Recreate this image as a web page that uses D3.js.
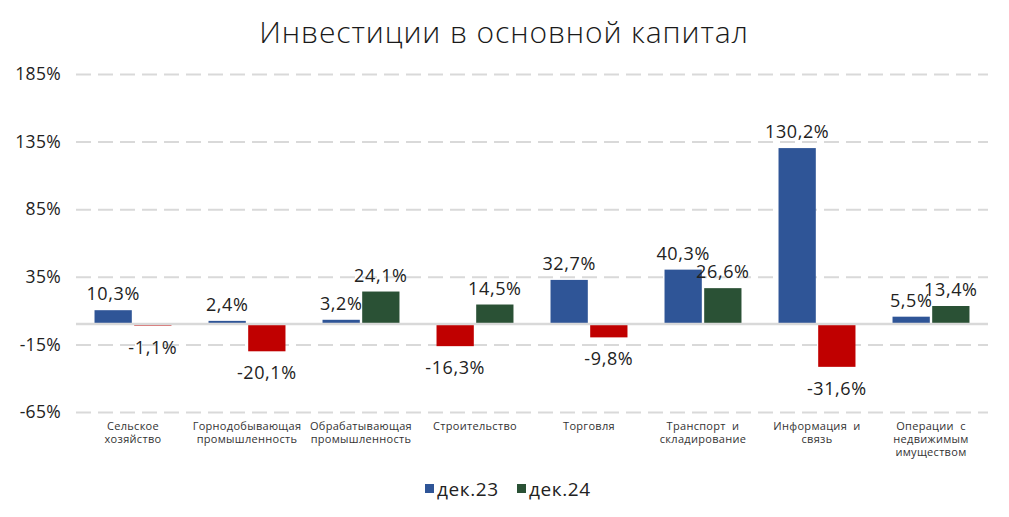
<!DOCTYPE html>
<html>
<head>
<meta charset="utf-8">
<script src="https://cdn.jsdelivr.net/npm/d3@7"></script>
<style>
  html, body { margin: 0; padding: 0; background: #fff; }
  svg { display: block; font-family: "Open Sans", "DejaVu Sans", sans-serif; }
</style>
</head>
<body>
<svg id="chart" width="1009" height="517"></svg>
<script>
const categories = [
  ["Сельское", "хозяйство"],
  ["Горнодобывающая", "промышленность"],
  ["Обрабатывающая", "промышленность"],
  ["Строительство"],
  ["Торговля"],
  ["Транспорт  и", "складирование"],
  ["Информация  и", "связь"],
  ["Операции  с", "недвижимым", "имуществом"]
];
const seriesNames = ["дек.23", "дек.24"];
const dec23 = [10.3, 2.4, 3.2, -16.3, 32.7, 40.3, 130.2, 5.5];
const dec24 = [-1.1, -20.1, 24.1, 14.5, -9.8, 26.6, -31.6, 13.4];
const dec23Labels = ["10,3%", "2,4%", "3,2%", "-16,3%", "32,7%", "40,3%", "130,2%", "5,5%"];
const dec24Labels = ["-1,1%", "-20,1%", "24,1%", "14,5%", "-9,8%", "26,6%", "-31,6%", "13,4%"];
const yTicks = [-65, -15, 35, 85, 135, 185];
const yTickLabels = ["-65%", "-15%", "35%", "85%", "135%", "185%"];
const colors = { "дек.23": "#2F5597", "дек.24": "#2A5135", negative: "#C00000" };

const svg = d3.select("#chart");
const left = 76, right = 988;

const x0 = d3.scaleBand().domain(d3.range(categories.length)).range([left, right])
  .paddingInner(0.325).paddingOuter(0.1625);
const x1 = d3.scaleBand().domain(seriesNames).range([0, x0.bandwidth()]).paddingInner(0.06);
const y = d3.scaleLinear().domain([-65, 185]).range([412, 74]);

// title
svg.append("text").attr("x", 504).attr("y", 43).attr("text-anchor", "middle")
  .attr("font-size", 30).attr("font-weight", 300).attr("letter-spacing", 0.9).attr("fill", "#1a1a1a")
  .text("Инвестиции в основной капитал");

// gridlines
const yAxis = d3.axisLeft(y).tickValues(yTicks).tickSize(-(right - left))
  .tickFormat((d, i) => yTickLabels[i]);
const gy = svg.append("g").attr("transform", `translate(${left},0)`).call(yAxis);
gy.select(".domain").remove();
gy.selectAll(".tick line").attr("stroke", "#d9d9d9").attr("stroke-width", 2)
  .attr("stroke-dasharray", "15,7");
gy.selectAll(".tick text").attr("x", -15).attr("font-size", 17.5).attr("fill", "#222")
  .attr("letter-spacing", 0.3).attr("font-family", "'Open Sans', sans-serif");

const rows = [];
categories.forEach((c, i) => {
  rows.push({ i, s: "дек.23", v: dec23[i], label: dec23Labels[i] });
  rows.push({ i, s: "дек.24", v: dec24[i], label: dec24Labels[i] });
});

svg.append("g").selectAll("rect").data(rows).join("rect")
  .attr("x", d => x0(d.i) + x1(d.s))
  .attr("width", x1.bandwidth())
  .attr("y", d => y(Math.max(0, d.v)))
  .attr("height", d => Math.abs(y(d.v) - y(0)))
  .attr("fill", d => d.v < 0 ? colors.negative : colors[d.s]);

// zero line (drawn over bars)
svg.append("line").attr("x1", left).attr("x2", right).attr("y1", y(0)).attr("y2", y(0))
  .attr("stroke", "#d9d9d9").attr("stroke-width", 2.5);

svg.append("g").selectAll("text").data(rows).join("text")
  .attr("x", d => x0(d.i) + x1(d.s) + x1.bandwidth() / 2)
  .attr("y", d => d.v >= 0 ? y(d.v) - 10 : y(d.v) + 28)
  .attr("text-anchor", "middle").attr("font-size", 18).attr("letter-spacing", 0.6)
  .attr("fill", "#222")
  .text(d => d.label);

// category labels
const gx = svg.append("g");
categories.forEach((lines, i) => {
  const cx = x0(i) + x0.bandwidth() / 2;
  const t = gx.append("text").attr("x", cx).attr("y", 430)
    .attr("text-anchor", "middle").attr("font-size", 11).attr("letter-spacing", 0.3)
    .attr("fill", "#333").style("white-space", "pre");
  lines.forEach((l, k) => t.append("tspan").attr("x", cx)
    .attr("dy", k === 0 ? 0 : 13).text(l));
});

// legend
const legend = svg.append("g");
const legendX = [425, 517];
seriesNames.forEach((s, k) => {
  legend.append("rect").attr("x", legendX[k]).attr("y", 484).attr("width", 9).attr("height", 9)
    .attr("fill", colors[s]);
  legend.append("text").attr("x", legendX[k] + 12).attr("y", 496).attr("font-size", 19)
    .attr("letter-spacing", 0.6).attr("fill", "#222").text(s);
});
</script>
</body>
</html>
